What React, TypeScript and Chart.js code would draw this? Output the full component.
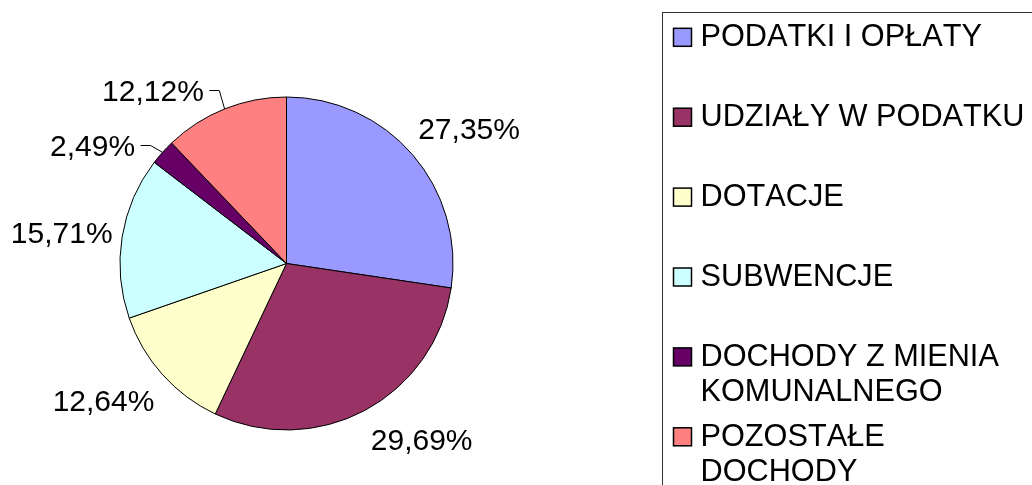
import React, { useEffect, useRef } from "react";
import { Chart, registerables } from "chart.js";

Chart.register(...registerables);

// ---- data ----
const categories = [
  "PODATKI I OPŁATY",
  "UDZIAŁY W PODATKU",
  "DOTACJE",
  "SUBWENCJE",
  "DOCHODY Z MIENIA KOMUNALNEGO",
  "POZOSTAŁE DOCHODY",
];
const shares = [27.35, 29.69, 12.64, 15.71, 2.49, 12.12];
const sliceColors = ["#9999FF", "#993366", "#FFFFCC", "#CCFFFF", "#660066", "#FF8080"];

// ---- layout / style ----
const FONT = '30px "Liberation Sans", Arial, sans-serif';
const LEGEND_FONT = '30.7px "Liberation Sans", Arial, sans-serif';
const CAP = 21.5;
const LABEL_GAP = 25;
const LABEL_NUDGE = [
  [-1, -3],
  [21, -3],
  [-2.6, 1.3],
  [14.5, 0.5],
  [-19.7, 17.2],
  [-43.5, 15],
];
const LABEL_LEADER = [false, false, false, false, true, true];

const LEGEND_FRAME_X = 662.5;
const LEGEND_FRAME_Y = 12.5;
const LEGEND_BOX_X = 673.5;
const LEGEND_BOX = 18;
const LEGEND_TEXT_X = 700.5;
const LEGEND_FIRST_Y = 37.3;
const LEGEND_STEP = 79.9;
const LEGEND_LINE_H = 35;
const LEGEND_WRAP = 338;

const fmt = (v: number) => v.toFixed(2).replace(".", ",") + "%";

const labelPlugin = {
  id: "pctLabels",
  afterDatasetsDraw(chart: any) {
    const ctx = chart.ctx as CanvasRenderingContext2D;
    const meta = chart.getDatasetMeta(0);
    ctx.save();
    ctx.font = FONT;
    (ctx as any).fontKerning = "none";
    ctx.fillStyle = "#000";
    ctx.strokeStyle = "#000";
    ctx.lineWidth = 1;
    ctx.textAlign = "center";
    ctx.textBaseline = "alphabetic";
    meta.data.forEach((arc: any, i: number) => {
      const { x, y, startAngle, endAngle, outerRadius } = arc.getProps(
        ["x", "y", "startAngle", "endAngle", "outerRadius"],
        true
      );
      const mid = (startAngle + endAngle) / 2;
      const ux = Math.cos(mid);
      const uy = Math.sin(mid);
      const text = fmt(shares[i]);
      const w = ctx.measureText(text).width;
      const cx = x + ux * (outerRadius + LABEL_GAP) + (ux * w) / 2 + LABEL_NUDGE[i][0];
      const cy = y + uy * (outerRadius + LABEL_GAP) + (uy * CAP) / 2 + LABEL_NUDGE[i][1];
      ctx.fillText(text, cx, cy + CAP / 2);
      if (LABEL_LEADER[i]) {
        const sx = cx + w / 2 + 5.5;
        const sy = Math.round(cy - 1) + 0.5;
        ctx.beginPath();
        ctx.moveTo(sx, sy);
        ctx.lineTo(sx + 10, sy);
        ctx.lineTo(x + ux * outerRadius, y + uy * outerRadius);
        ctx.stroke();
      }
    });
    ctx.restore();
  },
};

const legendPlugin = {
  id: "sideLegend",
  afterDraw(chart: any) {
    const ctx = chart.ctx as CanvasRenderingContext2D;
    const labels: string[] = chart.data.labels;
    const colors: string[] = chart.data.datasets[0].backgroundColor;
    ctx.save();
    ctx.strokeStyle = "#333";
    ctx.lineWidth = 1;
    ctx.strokeRect(LEGEND_FRAME_X, LEGEND_FRAME_Y, 1000, 1000);
    ctx.font = LEGEND_FONT;
    (ctx as any).fontKerning = "none";
    ctx.textAlign = "left";
    ctx.textBaseline = "alphabetic";
    labels.forEach((lab, i) => {
      const cy = LEGEND_FIRST_Y + LEGEND_STEP * i;
      ctx.fillStyle = colors[i];
      ctx.fillRect(LEGEND_BOX_X, cy - LEGEND_BOX / 2, LEGEND_BOX, LEGEND_BOX);
      ctx.strokeStyle = "#000";
      ctx.lineWidth = 1.5;
      ctx.strokeRect(LEGEND_BOX_X, cy - LEGEND_BOX / 2, LEGEND_BOX, LEGEND_BOX);
      const words = lab.split(" ");
      const lines: string[] = [];
      let cur = "";
      words.forEach((wd) => {
        const test = cur ? cur + " " + wd : wd;
        if (cur && ctx.measureText(test).width > LEGEND_WRAP) {
          lines.push(cur);
          cur = wd;
        } else {
          cur = test;
        }
      });
      if (cur) lines.push(cur);
      ctx.fillStyle = "#000";
      lines.forEach((ln, k) => {
        ctx.fillText(ln, LEGEND_TEXT_X, cy + 9 + k * LEGEND_LINE_H);
      });
    });
    ctx.restore();
  },
};

export default function App() {
  const ref = useRef<HTMLCanvasElement | null>(null);
  useEffect(() => {
    if (!ref.current) return;
    const chart = new Chart(ref.current, {
      type: "pie",
      data: {
        labels: categories,
        datasets: [
          {
            data: shares,
            backgroundColor: sliceColors,
            borderColor: "#000",
            borderWidth: 1,
          },
        ],
      },
      options: {
        animation: false,
        responsive: false,
        devicePixelRatio: 1,
        layout: { padding: { left: 119.5, right: 578.5, top: 96.5, bottom: 54.5 } },
        plugins: {
          legend: { display: false },
          tooltip: { enabled: false },
          title: { display: false },
        },
      },
      plugins: [labelPlugin, legendPlugin],
    });
    return () => chart.destroy();
  }, []);
  return (
    <div style={{ position: "absolute", left: 0, top: 0, width: 1032, height: 485, background: "#fff" }}>
      <canvas ref={ref} width={1032} height={485} style={{ width: 1032, height: 485, display: "block" }} />
    </div>
  );
}
